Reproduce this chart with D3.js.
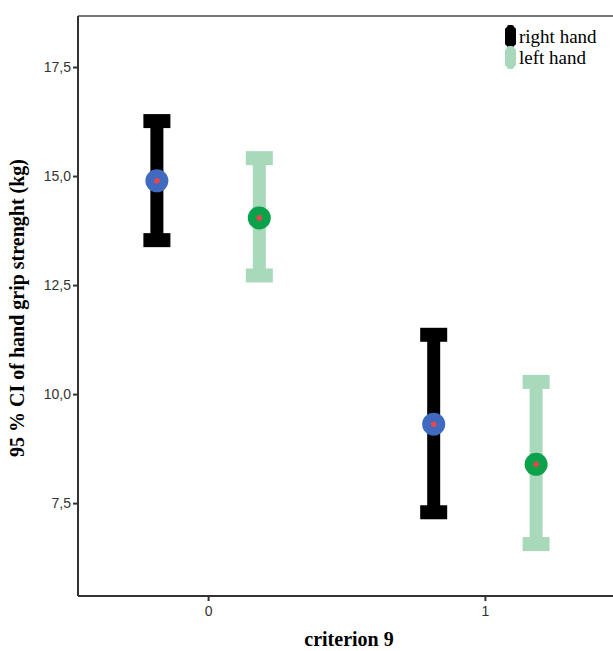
<!DOCTYPE html>
<html><head><meta charset="utf-8">
<script src="https://cdn.jsdelivr.net/npm/d3@7"></script>
<style>body{margin:0;background:#fff}svg{display:block}</style>
</head><body>
<svg id="c" width="613" height="651"></svg>
<script>
const categories = [0, 1];
const categoryLabels = ["0", "1"];
const seriesNames = ["right hand", "left hand"];
const rightMean  = [14.89, 9.31];
const rightLower = [13.53, 7.29];
const rightUpper = [16.26, 11.36];
const leftMean   = [14.04, 8.39];
const leftLower  = [12.72, 6.56];
const leftUpper  = [15.41, 10.28];
const yTicks = [7.5, 10.0, 12.5, 15.0, 17.5];

const svg = d3.select("#c");
const L = 78, R = 615, T = 16, B = 596;
const x = d3.scaleLinear().domain([-0.47, 1.47]).range([L, R]);
const y = d3.scaleLinear().domain([5.37, 18.67]).range([B, T]);

// frame
svg.append("line").attr("x1", L).attr("x2", R).attr("y1", T).attr("y2", T)
  .attr("stroke", "#777").attr("stroke-width", 2);

const fmt = d => d.toFixed(1).replace(".", ",");
const yAxis = svg.append("g").attr("transform", `translate(${L},0)`)
  .call(d3.axisLeft(y).tickValues(yTicks).tickSize(5).tickSizeOuter(0).tickFormat(fmt));
const xAxis = svg.append("g").attr("transform", `translate(0,${B})`)
  .call(d3.axisBottom(x).tickValues(categories).tickSize(5).tickSizeOuter(0)
    .tickFormat((d, i) => categoryLabels[i]));
[yAxis, xAxis].forEach(g => {
  g.select(".domain").attr("stroke", "#333").attr("stroke-width", 2);
  g.selectAll(".tick line").attr("stroke", "#333").attr("stroke-width", 2);
  g.selectAll(".tick text").attr("fill", "#333")
    .style("font-family", "Liberation Sans, Arial, sans-serif").style("font-size", "14px");
});
yAxis.select(".domain").attr("d", `M0,${B}V${T}`);
xAxis.select(".domain").attr("d", `M${L},0H${R}`);
yAxis.selectAll(".tick text").attr("x", -7);
xAxis.selectAll(".tick text").attr("y", 10);

const series = [
  {name: seriesNames[0], mean: rightMean, lo: rightLower, hi: rightUpper, off: -0.185,
   bar: "#000000", dot: "#3f6ac0"},
  {name: seriesNames[1], mean: leftMean, lo: leftLower, hi: leftUpper, off: 0.185,
   bar: "#a9d9bb", dot: "#0ca24c"}
];

series.forEach(s => {
  const g = svg.append("g");
  categories.forEach((c, i) => {
    const cx = x(c + s.off);
    g.append("rect").attr("x", cx - 6.5).attr("width", 13)
      .attr("y", y(s.hi[i])).attr("height", y(s.lo[i]) - y(s.hi[i])).attr("fill", s.bar);
    [s.hi[i], s.lo[i]].forEach(v => {
      g.append("rect").attr("x", cx - 13.5).attr("width", 27)
        .attr("y", y(v) - 7).attr("height", 14).attr("fill", s.bar);
    });
    g.append("circle").attr("cx", cx).attr("cy", y(s.mean[i])).attr("r", 11.5).attr("fill", s.dot);
    g.append("circle").attr("cx", cx).attr("cy", y(s.mean[i])).attr("r", 2.8).attr("fill", "#e8464c");
  });
});

// legend
const lg = svg.append("g");
series.forEach((s, i) => {
  const yy = 37 + i * 21;
  lg.append("rect").attr("x", 505).attr("y", yy - 10).attr("width", 11).attr("height", 19)
    .attr("rx", 3).attr("fill", s.bar);
  lg.append("rect").attr("x", 507).attr("y", yy - 12).attr("width", 7).attr("height", 23)
    .attr("rx", 2).attr("fill", s.bar);
  lg.append("text").attr("x", 519).attr("y", yy + 6).text(s.name)
    .style("font-family", "Liberation Serif, Times New Roman, serif").style("font-size", "19px")
    .attr("fill", "#000");
});

// axis titles
svg.append("text").attr("transform", "translate(24,308) rotate(-90)")
  .attr("text-anchor", "middle").text("95 % CI of hand grip strenght (kg)")
  .style("font-family", "Liberation Serif, Times New Roman, serif").style("font-size", "20px")
  .style("font-weight", "bold");
svg.append("text").attr("x", 349).attr("y", 646).attr("text-anchor", "middle")
  .text("criterion 9")
  .style("font-family", "Liberation Serif, Times New Roman, serif").style("font-size", "20px")
  .style("font-weight", "bold");
</script>
</body></html>
